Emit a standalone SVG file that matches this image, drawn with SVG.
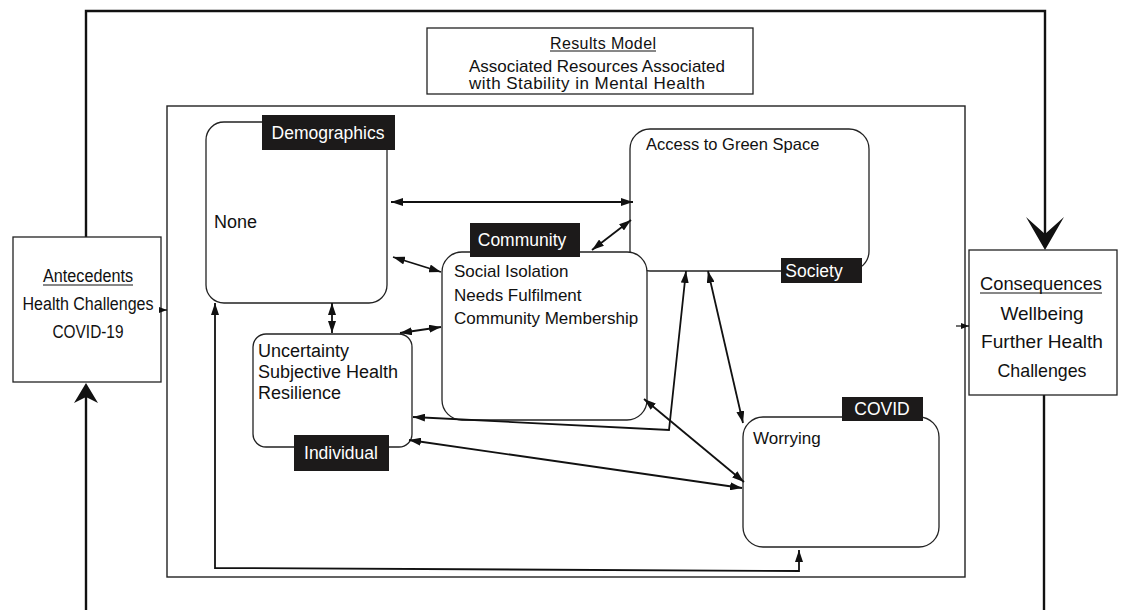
<svg xmlns="http://www.w3.org/2000/svg" width="1123" height="610" viewBox="0 0 1123 610">
<defs>
<style>
.t{font-family:"Liberation Sans",Arial,sans-serif;fill:#111}
.lbl{font-family:"Liberation Sans",Arial,sans-serif;fill:#fff;font-size:17.5px}
.box{fill:#fff;stroke:#222;stroke-width:1.3}
.blk{fill:#1c1a1a}
.c{fill:none;stroke:#111;stroke-width:1.8}
.loop{fill:none;stroke:#111;stroke-width:2.4}
</style>
<marker id="a" viewBox="0 0 12 8" refX="12" refY="4" markerWidth="12" markerHeight="8" markerUnits="userSpaceOnUse" orient="auto-start-reverse">
<path d="M0,0 L12,4 L0,8 z" fill="#111"/>
</marker>
<marker id="s" viewBox="0 0 8 6" refX="8" refY="3" markerWidth="8" markerHeight="6" markerUnits="userSpaceOnUse" orient="auto">
<path d="M0,0 L8,3 L0,6 z" fill="#111"/>
</marker>
</defs>
<rect width="1123" height="610" fill="#fff"/>

<g id="outer-loop">
<polyline class="loop" points="86,237 86,11 1045,11 1045,236"/>
<polygon points="1045,250 1026,217 1045,234 1064,217" fill="#111"/>
<line class="loop" x1="1044" y1="395" x2="1044" y2="610"/>
<line class="loop" x1="86" y1="610" x2="86" y2="395"/>
<polygon points="86,383 74,403 86,397 98,403" fill="#111"/>
</g>

<g id="results-model">
<rect x="427" y="28" width="326" height="66" fill="#fff" stroke="#222" stroke-width="1.3"/>
<text class="t" x="603" y="49" font-size="16" text-anchor="middle" textLength="106">Results Model</text>
<line x1="550" y1="51" x2="656" y2="51" stroke="#111" stroke-width="1"/>
<text class="t" x="597" y="72" font-size="17" text-anchor="middle" textLength="256">Associated Resources Associated</text>
<text class="t" x="469" y="89" font-size="17" textLength="236">with Stability in Mental Health</text>
</g>

<g id="frame">
<rect x="167" y="106" width="798" height="471" fill="none" stroke="#222" stroke-width="1.4"/>
</g>

<g id="antecedents">
<rect x="13" y="237" width="148" height="145" class="box"/>
<text class="t" x="88" y="282" font-size="18" text-anchor="middle" textLength="90" lengthAdjust="spacingAndGlyphs">Antecedents</text>
<line x1="43" y1="285" x2="133" y2="285" stroke="#111" stroke-width="1"/>
<text class="t" x="88" y="310" font-size="18" text-anchor="middle" textLength="131" lengthAdjust="spacingAndGlyphs">Health Challenges</text>
<text class="t" x="88" y="338" font-size="18" text-anchor="middle" textLength="71" lengthAdjust="spacingAndGlyphs">COVID-19</text>
</g>

<g id="consequences">
<rect x="969" y="250" width="148" height="145" class="box"/>
<text class="t" x="1041" y="290" font-size="19" text-anchor="middle" textLength="122" lengthAdjust="spacingAndGlyphs">Consequences</text>
<line x1="980" y1="293" x2="1102" y2="293" stroke="#111" stroke-width="1"/>
<text class="t" x="1042" y="320" font-size="19" text-anchor="middle" textLength="83" lengthAdjust="spacingAndGlyphs">Wellbeing</text>
<text class="t" x="1042" y="348" font-size="19" text-anchor="middle" textLength="122" lengthAdjust="spacingAndGlyphs">Further Health</text>
<text class="t" x="1042" y="377" font-size="19" text-anchor="middle" textLength="89" lengthAdjust="spacingAndGlyphs">Challenges</text>
</g>

<g id="demographics">
<rect x="206" y="122" width="181" height="181" rx="18" class="box"/>
<rect x="262" y="115" width="133" height="35" class="blk"/>
<text class="lbl" x="328" y="139" text-anchor="middle">Demographics</text>
<text class="t" x="214" y="228" font-size="18">None</text>
</g>

<g id="green-space">
<rect x="630" y="129" width="239" height="142" rx="20" class="box"/>
<text class="t" x="646" y="150" font-size="16.5">Access to Green Space</text>
<rect x="781" y="258" width="81" height="25" class="blk"/>
<text class="lbl" x="814" y="277" text-anchor="middle">Society</text>
</g>

<g id="community">
<rect x="442" y="252" width="205" height="168" rx="20" class="box"/>
<rect x="470" y="223" width="110" height="34" class="blk"/>
<text class="lbl" x="522" y="246" text-anchor="middle">Community</text>
<text class="t" x="454" y="277" font-size="17">Social Isolation</text>
<text class="t" x="454" y="301" font-size="17">Needs Fulfilment</text>
<text class="t" x="454" y="324" font-size="17">Community Membership</text>
</g>

<g id="individual">
<rect x="253" y="334" width="159" height="113" rx="13" class="box"/>
<text class="t" x="258" y="357" font-size="18">Uncertainty</text>
<text class="t" x="258" y="378" font-size="18">Subjective Health</text>
<text class="t" x="258" y="399" font-size="18">Resilience</text>
<rect x="294" y="435" width="95" height="36" class="blk"/>
<text class="lbl" x="341" y="459" text-anchor="middle">Individual</text>
</g>

<g id="covid">
<rect x="743" y="417" width="196" height="130" rx="20" class="box"/>
<rect x="842" y="397" width="81" height="24" class="blk"/>
<text class="lbl" x="882" y="415" text-anchor="middle">COVID</text>
<text class="t" x="753" y="444" font-size="17">Worrying</text>
</g>

<g id="connectors">
<line class="c" x1="391" y1="202" x2="633" y2="202" marker-start="url(#a)" marker-end="url(#a)"/>
<line class="c" x1="393" y1="257" x2="441" y2="272" marker-start="url(#a)" marker-end="url(#a)"/>
<line class="c" x1="592" y1="250" x2="631" y2="220" marker-start="url(#a)" marker-end="url(#a)"/>
<line class="c" x1="332" y1="303" x2="332" y2="333" marker-start="url(#a)" marker-end="url(#a)"/>
<line class="c" x1="400" y1="333" x2="441" y2="327" marker-start="url(#a)" marker-end="url(#a)"/>
<polyline class="c" points="686,271 669,430 413,417" marker-start="url(#a)" marker-end="url(#a)"/>
<line class="c" x1="708" y1="271" x2="743" y2="423" marker-start="url(#a)" marker-end="url(#a)"/>
<line class="c" x1="644" y1="399" x2="744" y2="482" marker-start="url(#a)" marker-end="url(#a)"/>
<line class="c" x1="409" y1="440" x2="742" y2="488" marker-start="url(#a)" marker-end="url(#a)"/>
<polyline class="c" points="215,303 215,568 799,571 799,550" marker-start="url(#a)" marker-end="url(#a)"/>
<line x1="161" y1="310" x2="167" y2="310" stroke="#111" stroke-width="1.2" marker-end="url(#s)"/>
<line x1="956" y1="326" x2="969" y2="326" stroke="#111" stroke-width="1.2" marker-end="url(#s)"/>
</g>
</svg>
